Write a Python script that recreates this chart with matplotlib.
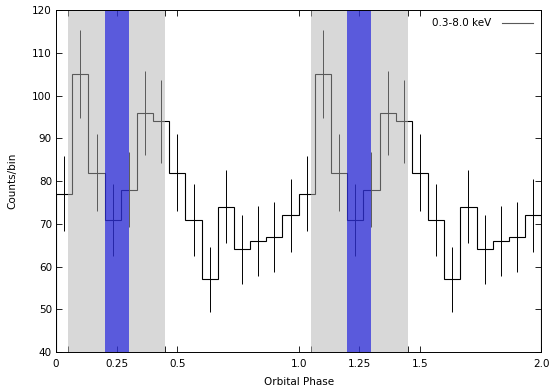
import numpy as np
import matplotlib
matplotlib.use('Agg')
import matplotlib.pyplot as plt

# counts per bin, one orbital cycle (15 bins), shown twice
counts = [77, 105, 82, 71, 78, 96, 94, 82, 71, 57, 74, 64, 66, 67, 72]
n_cycles = 2
gray_bands = [(0.05, 0.45), (1.05, 1.45)]
blue_bands = [(0.2, 0.3), (1.2, 1.3)]
xtick_pos = [0, 0.05, 0.25, 0.45, 0.5, 1.0, 1.05, 1.25, 1.45, 1.5, 2.0]
xtick_lab = ['0', '', '0.25', '', '0.5', '1.0', '', '1.25', '', '1.5', '2.0']
legend_label = '0.3-8.0 keV'

plt.rcParams['font.family'] = 'DejaVu Sans'
fs = 7.5

y = np.array(counts * n_cycles, dtype=float)
nb = len(y)
edges = np.linspace(0, n_cycles, nb + 1)
centers = 0.5 * (edges[:-1] + edges[1:])
err = np.sqrt(y)

fig = plt.figure(figsize=(5.5, 3.89), dpi=100)
ax = fig.add_axes([0.102, 0.095, 0.882, 0.879])

ax.stairs(y, edges, color='black', lw=0.8, zorder=2, label=legend_label)
ax.errorbar(centers, y, yerr=err, fmt='none', ecolor='black', elinewidth=0.7,
            capsize=0, zorder=2)

for a, b in gray_bands:
    ax.axvspan(a, b, color=(0.70, 0.70, 0.70), alpha=0.5, lw=0, zorder=3)
for a, b in blue_bands:
    ax.axvspan(a, b, color=(0, 0, 0.88), alpha=0.58, lw=0, zorder=4)

ax.set_xlim(0, 2)
ax.set_ylim(40, 120)
ax.set_yticks(np.arange(40, 121, 10))
ax.set_xticks(xtick_pos)
ax.set_xticklabels(xtick_lab)
ax.tick_params(direction='in', length=4, width=0.6, top=True, right=True,
               labelsize=fs, colors='black', pad=3)
ax.tick_params(axis='x', pad=5)
for s in ax.spines.values():
    s.set_linewidth(0.7)
    s.set_zorder(6)

ax.set_xlabel('Orbital Phase', fontsize=fs, labelpad=6)
ax.set_ylabel('Counts/bin', fontsize=fs, labelpad=11)

leg = ax.legend(loc='upper right', frameon=False, markerfirst=False,
                fontsize=fs, handlelength=3.0, borderaxespad=0.4,
                handletextpad=1.0)
for h in leg.get_lines():
    h.set_color('0.35')
    h.set_linewidth(0.8)

fig.savefig('out.png', dpi=100)
